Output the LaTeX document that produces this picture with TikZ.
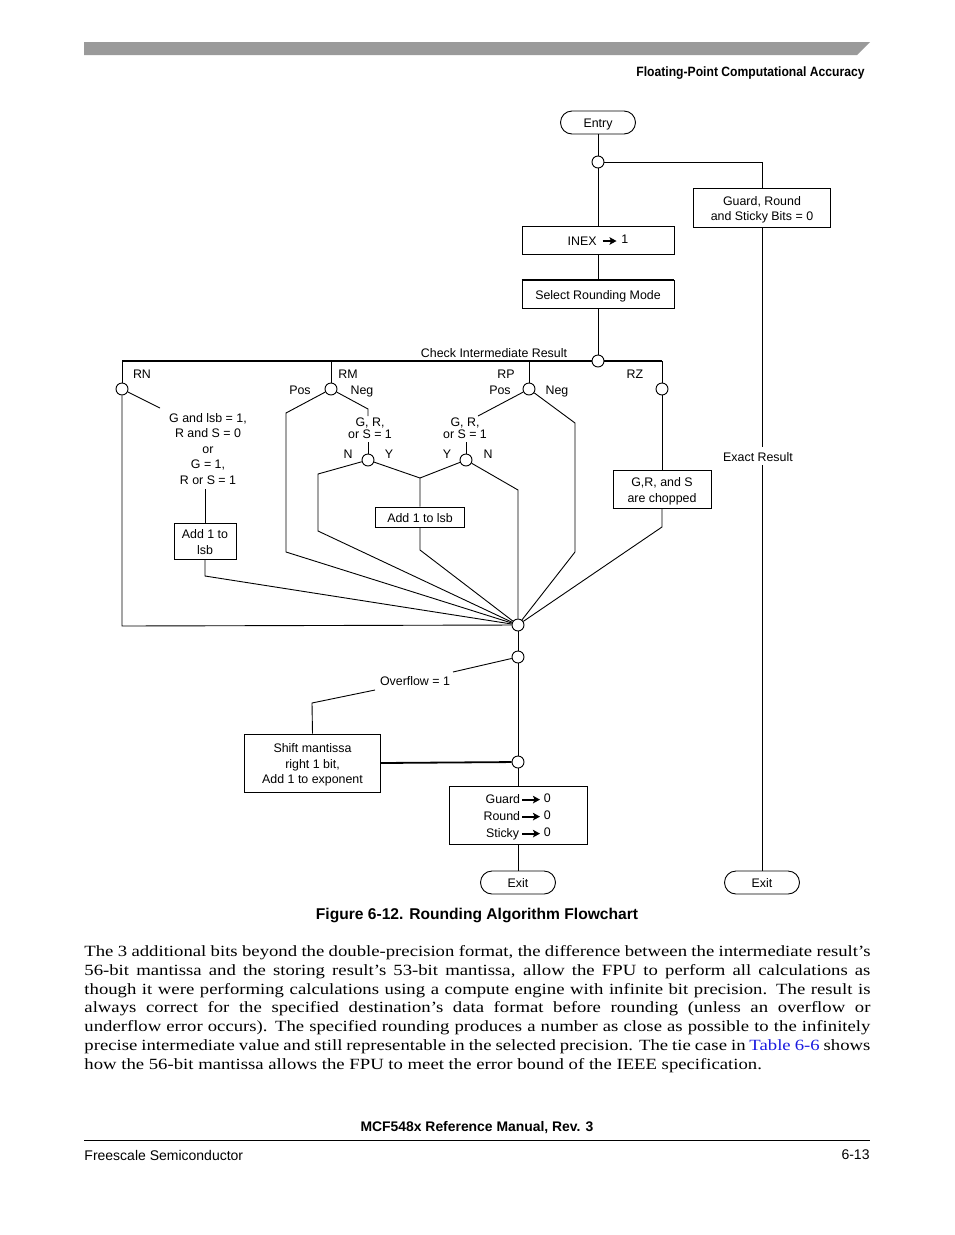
\documentclass[tikz,border=0pt]{standalone}
\usepackage{fontspec}
\setmainfont{Liberation Serif}
\newfontfamily\bodyfont[FakeStretch=1.2]{Liberation Serif}
\newfontfamily\arial{Liberation Sans}
\usetikzlibrary{arrows.meta}
\definecolor{barg}{HTML}{9A9A9A}
\definecolor{linkb}{HTML}{1A1AE0}
\newcommand{\barr}[1][14pt]{\tikz[baseline=-4.3pt]\draw[line width=1.8pt,-{Stealth[length=7pt,width=7.5pt,inset=1.5pt]}](0pt,0pt)--(#1,0pt);}
\newcommand{\mytl}[1]{\raisebox{-2.2pt}[\height][\depth]{\begin{tabular}{@{}c@{}}#1\end{tabular}}}
\newcommand{\mytr}[1]{\raisebox{-2.5pt}[\height][\depth]{\begin{tabular}{@{}r@{}}#1\end{tabular}}}
\begin{document}
\begin{tikzpicture}[x=1pt,y=-1pt,line width=0.9pt,
  lbl/.style={font=\arial\fontsize{12.4}{15.5}\selectfont,inner sep=0pt,align=center},
  box/.style={lbl,draw,line width=0.9pt},
  term/.style={box,rounded corners=11.5pt,minimum width=75pt,minimum height=23pt},
  jc/.style={circle,draw,fill=white,minimum size=12pt,inner sep=0pt,line width=0.9pt},
  cond/.style={lbl,font=\arial\fontsize{12.4}{12.5}\selectfont}]
\useasboundingbox (0,0) rectangle (954,1235);
% header
\fill[barg] (84,42) -- (870,42) -- (857,55) -- (84,55) -- cycle;
\node[anchor=east,inner sep=0pt,font=\arial\bfseries\fontsize{13.5}{16}\selectfont] (hdr) at (865,73) {\scalebox{0.9}[1]{Floating-Point Computational Accuracy}};
% nodes
\node[term] (entry) at (598,122.5) {\mytl{Entry}};
\node[jc] (j1) at (598,162) {};
\node[box,minimum width=137pt,minimum height=39pt] (guard) at (762,207.5) {\mytl{Guard, Round\\and Sticky Bits = 0}};
\node[box,minimum width=152pt,minimum height=28pt] (inex) at (598,240) {\mytl{INEX\hspace{5pt}\barr\hspace{4pt}\raisebox{1.5pt}{1}}};
\node[box,minimum width=152pt,minimum height=28pt] (sel) at (598,294) {\mytl{Select Rounding Mode}};
\draw[line width=1.8pt] (sel.north west) -- (sel.north east);
\node[jc] (jchk) at (598,361) {};
\coordinate (cRN) at (122,361);
\coordinate (cRM) at (331,361);
\coordinate (cRP) at (529,361);
\coordinate (cRZ) at (662,361);
\draw[line width=1.8pt] (cRN) -- (jchk) -- (cRZ);
\node[lbl] (chk) at (494,352) {\mytl{Check Intermediate Result}};
\node[jc] (jRN) at (122,389) {};
\node[jc] (jRM) at (331,389) {};
\node[jc] (jRP) at (529,389) {};
\node[jc] (jRZ) at (662,389) {};
\node[lbl] (tRN) at (142,373) {\mytl{RN}};
\node[lbl] (tRM) at (348,373) {\mytl{RM}};
\node[lbl] (tRP) at (506,373) {\mytl{RP}};
\node[lbl] (tRZ) at (635,373) {\mytl{RZ}};
\node[lbl] (tPos1) at (300,389) {\mytl{Pos}};
\node[lbl] (tNeg1) at (362,389) {\mytl{Neg}};
\node[lbl] (tPos2) at (500,389) {\mytl{Pos}};
\node[lbl] (tNeg2) at (557,389) {\mytl{Neg}};
\draw (cRN) -- (jRN);
\draw (cRM) -- (jRM);
\draw (cRP) -- (jRP);
\draw (cRZ) -- (jRZ);
% merge point
\node[jc] (merge) at (518,625) {};
% RN branch
\node[lbl] (rncond) at (208,448) {\mytl{G and lsb = 1,\\R and S = 0\\or\\G = 1,\\R or S = 1}};
\node[box,minimum width=62pt,minimum height=36pt] (add1) at (205,541) {\mytl{Add 1 to\\lsb}};
\coordinate (rnA) at (160,408);
\coordinate (rnB) at (205,489);
\coordinate (rnC) at (205,576);
\coordinate (rnD) at (122,626);
\draw (jRN) -- (rnA);
\draw (rnB) -- (add1.north);
\draw (add1.south) -- (rnC) -- (merge);
\draw (jRN) -- (rnD) -- (merge);
% RM branch
\coordinate (rmP1) at (286,413);
\coordinate (rmP2) at (286,552);
\draw (jRM) -- (rmP1) -- (rmP2) -- (merge);
\coordinate (rmN1) at (368,409);
\coordinate (rmN2) at (368,416);
\draw (jRM) -- (rmN1) -- (rmN2);
\node[cond] (c1) at (370,428) {\mytl{G, R,\\or S = 1}};
\node[jc] (jN1) at (368,460) {};
\coordinate (c1b) at (368,442);
\draw (c1b) -- (jN1);
\node[lbl] (tN1) at (348,453) {\mytl{N}};
\node[lbl] (tY1) at (389,453) {\mytl{Y}};
\coordinate (n1a) at (318,474);
\coordinate (n1b) at (318,531);
\draw (jN1) -- (n1a) -- (n1b) -- (merge);
\coordinate (ymeet) at (420,478);
\node[box,minimum width=89pt,minimum height=20pt] (add2) at (420,517) {\mytl{Add 1 to lsb}};
\draw (jN1) -- (ymeet) -- (add2.north);
\coordinate (add2b) at (420,550);
\draw (add2.south) -- (add2b) -- (merge);
% RP branch
\coordinate (rpP1) at (478,416);
\draw (jRP) -- (rpP1);
\node[cond] (c2) at (465,428) {\mytl{G, R,\\or S = 1}};
\node[jc] (jN2) at (466,460) {};
\coordinate (c2b) at (466,442);
\draw (c2b) -- (jN2);
\node[lbl] (tY2) at (447,453) {\mytl{Y}};
\node[lbl] (tN2) at (488,453) {\mytl{N}};
\draw (jN2) -- (ymeet);
\coordinate (n2a) at (518,490);
\draw (jN2) -- (n2a) -- (merge);
\coordinate (rpN1) at (575,423);
\coordinate (rpN2) at (575,552);
\draw (jRP) -- (rpN1) -- (rpN2) -- (merge);
% RZ branch
\node[box,minimum width=98pt,minimum height=38pt] (grs) at (662,489) {\mytl{G,R, and S\\are chopped}};
\draw[line width=1.8pt] (grs.south west) -- (grs.south east);
\coordinate (grsb) at (662,527);
\draw (jRZ) -- (grs.north);
\draw (grs.south) -- (grsb) -- (merge);
% overflow section
\node[jc] (jov) at (518,657) {};
\node[jc] (jsh) at (518,762) {};
\draw (merge) -- (jov);
\draw (jov) -- (jsh);
\node[lbl] (ovl) at (415,680) {\mytl{Overflow = 1}};
\coordinate (ov1) at (453,672);
\coordinate (ov2) at (375,690);
\coordinate (ov3) at (312,703);
\node[box,minimum width=136pt,minimum height=58pt] (shift) at (312.5,763) {\mytl{Shift mantissa\\right 1 bit,\\Add 1 to exponent}};
\draw (jov) -- (ov1);
\draw (ov2) -- (ov3) -- (shift.north);
\draw[line width=1.8pt] (shift.east) -- (jsh);
\node[box,minimum width=138pt,minimum height=58pt] (gbox) at (518,815) {};
\node[lbl,anchor=east,font=\arial\fontsize{12.4}{17}\selectfont] (gtxt) at (551,815) {\mytr{Guard\hspace{1pt}\barr[18pt]\hspace{3pt}\raisebox{1.5pt}{0}\\Round\hspace{1pt}\barr[18pt]\hspace{3pt}\raisebox{1.5pt}{0}\\Sticky\hspace{2pt}\barr[18pt]\hspace{3pt}\raisebox{1.5pt}{0}}};
\draw (jsh) -- (gbox.north);
\node[term] (exit1) at (518,882.5) {\mytl{Exit}};
\node[term] (exit2) at (762,882.5) {\mytl{Exit}};
\draw (gbox.south) -- (exit1.north);
% right column
\coordinate (jr) at (762,162);
\draw (j1) -- (jr) -- (guard.north);
\draw (entry) -- (j1) -- (inex) -- (sel) -- (jchk);
\draw (guard.south) -- (exit2.north);
\node[lbl,fill=white,inner sep=1.5pt] (exact) at (758,456) {\mytl{Exact Result}};
% caption
\node[inner sep=0pt,font=\arial\bfseries\fontsize{15.6}{18}\selectfont] (cap) at (477,915) {Figure 6-12. Rounding Algorithm Flowchart};
% body text
\node[anchor=north west,inner sep=0pt,text width=786pt,align=justify,font=\bodyfont\fontsize{15.59}{18.75}\selectfont] (body) at (84,943) {\hyphenpenalty=10000\exhyphenpenalty=10000\tolerance=9999\strut The 3 additional bits beyond the double-precision format, the difference between the intermediate result’s\linebreak
56-bit mantissa and the storing result’s 53-bit mantissa, allow the FPU to perform all calculations as\linebreak
though it were performing calculations using a compute engine with infinite bit precision. The result is\linebreak
always correct for the specified destination’s data format before rounding (unless an overflow or\linebreak
underflow error occurs). The specified rounding produces a number as close as possible to the infinitely\linebreak
precise intermediate value and still representable in the selected precision. The tie case in \textcolor{linkb}{Table 6-6} shows\linebreak
how the 56-bit mantissa allows the FPU to meet the error bound of the IEEE specification.};
% footer
\node[inner sep=0pt,font=\arial\bfseries\fontsize{13.9}{16}\selectfont] (foot) at (477,1128) {MCF548x Reference Manual, Rev. 3};
\draw[line width=0.9pt] (84,1140) -- (870,1140);
\node[anchor=west,inner sep=0pt,font=\arial\fontsize{14}{16}\selectfont] (fs) at (84,1155) {Freescale Semiconductor};
\node[anchor=east,inner sep=0pt,font=\arial\fontsize{14}{16}\selectfont] (pg) at (870,1155) {6-13};
\end{tikzpicture}
\end{document}
